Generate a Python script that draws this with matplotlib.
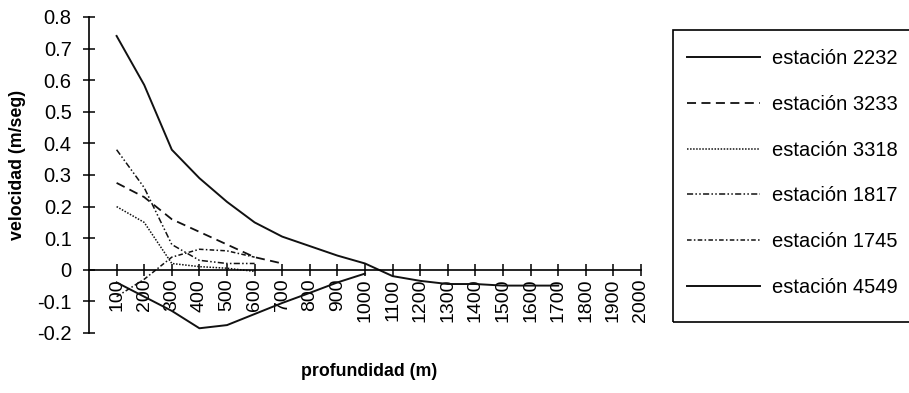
import numpy as np
import matplotlib.pyplot as plt
from matplotlib.patches import Rectangle

plt.rcParams['font.family'] = ['Liberation Sans', 'DejaVu Sans']

# depth categories (m)
Depths = [100, 200, 300, 400, 500, 600, 700, 800, 900, 1000,
          1100, 1200, 1300, 1400, 1500, 1600, 1700]

# velocities (m/seg)
Est2232 = [0.74, 0.585, 0.38, 0.29, 0.215, 0.15, 0.105, 0.075, 0.045, 0.02,
           -0.02, -0.035, -0.045, -0.045, -0.05, -0.05, -0.05]
Est3233 = [0.275, 0.23, 0.16, 0.12, 0.08, 0.04, 0.02]
Est3318 = [0.2, 0.15, 0.02, 0.01, 0.005, -0.005]
Est1817 = [0.38, 0.26, 0.08, 0.03, 0.02, 0.02]
Est1745 = [-0.085, -0.03, 0.04, 0.065, 0.06, 0.04]
Est4549 = [-0.04, -0.085, -0.13, -0.185, -0.175, -0.14, -0.105, -0.073, -0.04, -0.012]

Names = ["estación 2232", "estación 3233", "estación 3318",
         "estación 1817", "estación 1745", "estación 4549"]

YTicks = [0.8, 0.7, 0.6, 0.5, 0.4, 0.3, 0.2, 0.1, 0, -0.1, -0.2]
YLabels = ["0.8", "0.7", "0.6", "0.5", "0.4", "0.3", "0.2", "0.1", "0", "-0.1", "-0.2"]
XTicks = list(range(100, 2001, 100))

W, H = 909, 393
fig = plt.figure(figsize=(W / 100, H / 100), dpi=100)
ax = fig.add_axes([89 / W, 1 - 333 / H, 552 / W, 316 / H])

styles = [
    dict(ls="-", lw=1.4),
    dict(ls=(0, (5, 3)), lw=1.3),
    dict(ls=(0, (1, 1)), lw=1.1),
    dict(ls=(0, (4, 1.5, 1, 1.5, 1, 1.5)), lw=1.1),
    dict(ls=(0, (3, 1.5, 1, 1.5)), lw=1.1),
    dict(ls="-", lw=1.4),
]
series = [Est2232, Est3233, Est3318, Est1817, Est1745, Est4549]
handles = []
for vals, st, name in zip(series, styles, Names):
    h, = ax.plot(Depths[:len(vals)], vals, color="#111111", label=name, **st)
    handles.append(h)

ax.set_xlim(0, 2000)
ax.set_ylim(-0.2, 0.8)
ax.spines["top"].set_visible(False)
ax.spines["right"].set_visible(False)
ax.spines["bottom"].set_position(("data", 0))
ax.spines["left"].set_linewidth(1.2)
ax.spines["bottom"].set_linewidth(1.2)

ax.set_yticks(YTicks)
ax.set_yticklabels(YLabels, fontsize=14.5)
ax.set_xticks(XTicks)
ax.set_xticklabels([str(x) for x in XTicks], rotation=90, fontsize=14)
ax.tick_params(axis="both", direction="inout", length=9, width=1.1)
ax.tick_params(axis="x", pad=2)
ax.tick_params(axis="y", pad=8)

fig.text(18 / W, 1 - 165 / H, "velocidad (m/seg)", rotation=90,
         ha="center", va="center", fontsize=12.8, fontweight="bold")
fig.text(369 / W, 1 - 372 / H, "profundidad (m)",
         ha="center", va="center", fontsize=12.8, fontweight="bold")

# legend box
fig.patches.append(Rectangle((673 / W, 1 - 322 / H), 240 / W, 292 / H,
                             transform=fig.transFigure, fill=False,
                             edgecolor="black", lw=1.2))
fig.legend(handles=handles, loc="upper left",
           bbox_to_anchor=(669 / W, 1 - 31 / H), frameon=False,
           fontsize=14.5, handlelength=3.6, handletextpad=0.6,
           labelspacing=1.33)

plt.savefig("out.png", dpi=100)
